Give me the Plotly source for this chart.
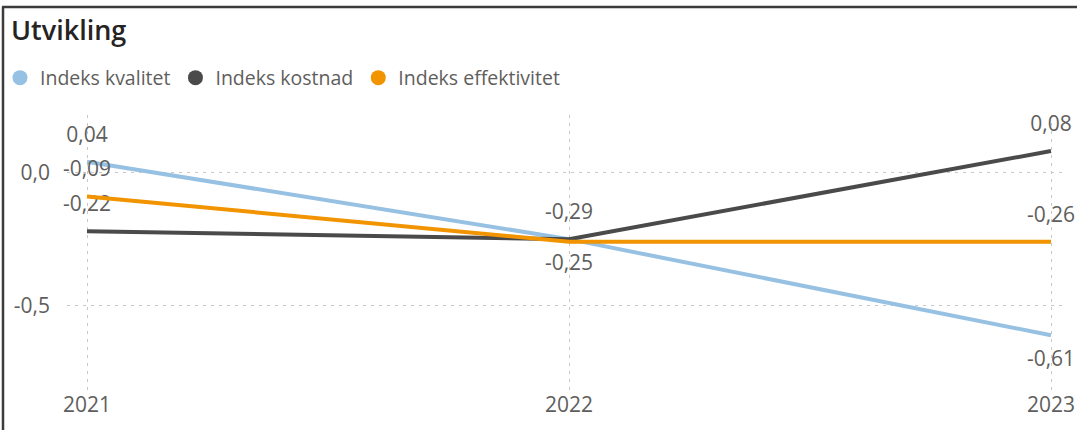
import plotly.graph_objects as go

years = [2021, 2022, 2023]
year_labels = ["2021", "2022", "2023"]

kvalitet = [0.04, -0.25, -0.61]
kostnad = [-0.22, -0.25, 0.08]
effektivitet = [-0.09, -0.26, -0.26]

kvalitet_text = ["0,04", "-0,25", "-0,61"]
kostnad_text = ["-0,22", "-0,29", "0,08"]
effektivitet_text = ["-0,09", "", "-0,26"]

y_tickvals = [0.0, -0.5]
y_ticktext = ["0,0", "-0,5"]

names = ["Indeks kvalitet", "Indeks kostnad", "Indeks effektivitet"]
colors = ["#97C1E3", "#4A4A4A", "#F29300"]

FONT = "Open Sans, Noto Sans, sans-serif"
LABEL_COLOR = "#605E5C"

fig = go.Figure()

series = [
    (kvalitet, kvalitet_text, ["top center", "bottom center", "bottom center"]),
    (kostnad, kostnad_text, ["top center", "top center", "top center"]),
    (effektivitet, effektivitet_text, ["top center", "top center", "top center"]),
]

for (vals, txt, pos), name, col in zip(series, names, colors):
    fig.add_trace(go.Scatter(
        x=years, y=vals, mode="lines+markers+text", name=name,
        line=dict(color=col, width=4),
        marker=dict(size=22, color="rgba(0,0,0,0)"),
        text=txt, textposition=pos,
        textfont=dict(family=FONT, size=21, color=LABEL_COLOR),
        showlegend=False, cliponaxis=False, hoverinfo="skip",
    ))

# legend entries (circle markers)
for name, col in zip(names, colors):
    fig.add_trace(go.Scatter(
        x=[None], y=[None], mode="markers", name=name,
        marker=dict(color=col, size=15, symbol="circle"),
        showlegend=True,
    ))

L, R, T, B = 67, 11, 115, 40
W, H = 1077, 430
pw, ph = W - L - R, H - T - B

def px_x(p):
    return (p - L) / pw

def px_y(p):
    return (H - B - p) / ph

fig.update_layout(
    width=W, height=H,
    margin=dict(l=L, r=R, t=T, b=B, pad=0, autoexpand=False),
    paper_bgcolor="white", plot_bgcolor="white",
    font=dict(family=FONT, color=LABEL_COLOR),
    title=dict(
        text="Utvikling", xref="container", yref="container",
        x=11 / W, xanchor="left", y=1 - 31 / H, yanchor="middle",
        font=dict(family=FONT, size=27, color="#252423", weight=600),
        automargin=False,
    ),
    showlegend=True,
    legend=dict(
        orientation="h", xref="container", yref="container",
        x=-3 / W, xanchor="left", y=1 - 78 / H, yanchor="middle",
        font=dict(family=FONT, size=19.5, color=LABEL_COLOR),
        itemsizing="trace", tracegroupgap=0, itemwidth=30,
        bgcolor="rgba(0,0,0,0)",
    ),
    xaxis=dict(
        range=[2021 - 20 / 482, 2023 + 15 / 482],
        tickvals=years, ticktext=year_labels,
        showgrid=True, gridcolor="#C8C8C8", griddash="3px,5px", gridwidth=1,
        zeroline=False, showline=False, ticks="", automargin=False,
        tickfont=dict(family=FONT, size=21, color=LABEL_COLOR),
    ),
    yaxis=dict(
        range=[-0.815, 0.215],
        tickvals=y_tickvals, ticktext=y_ticktext,
        showgrid=True, gridcolor="#C8C8C8", griddash="3px,5px", gridwidth=1,
        zeroline=False, showline=False, ticks="", automargin=False,
        ticklabelstandoff=16,
        tickfont=dict(family=FONT, size=21, color=LABEL_COLOR),
    ),
    shapes=[
        dict(type="line", xref="paper", yref="paper",
             x0=px_x(2), x1=px_x(W + 5), y0=px_y(7), y1=px_y(7),
             line=dict(color="#3C3C3C", width=2.5)),
        dict(type="line", xref="paper", yref="paper",
             x0=px_x(3), x1=px_x(3), y0=px_y(7), y1=px_y(H + 5),
             line=dict(color="#3C3C3C", width=2.5)),
    ],
)

fig.write_html(
    "out.html",
    config={"displayModeBar": False},
    post_script="document.body.style.margin='0';document.body.style.padding='0';"
                "document.documentElement.style.overflow='hidden';",
)
